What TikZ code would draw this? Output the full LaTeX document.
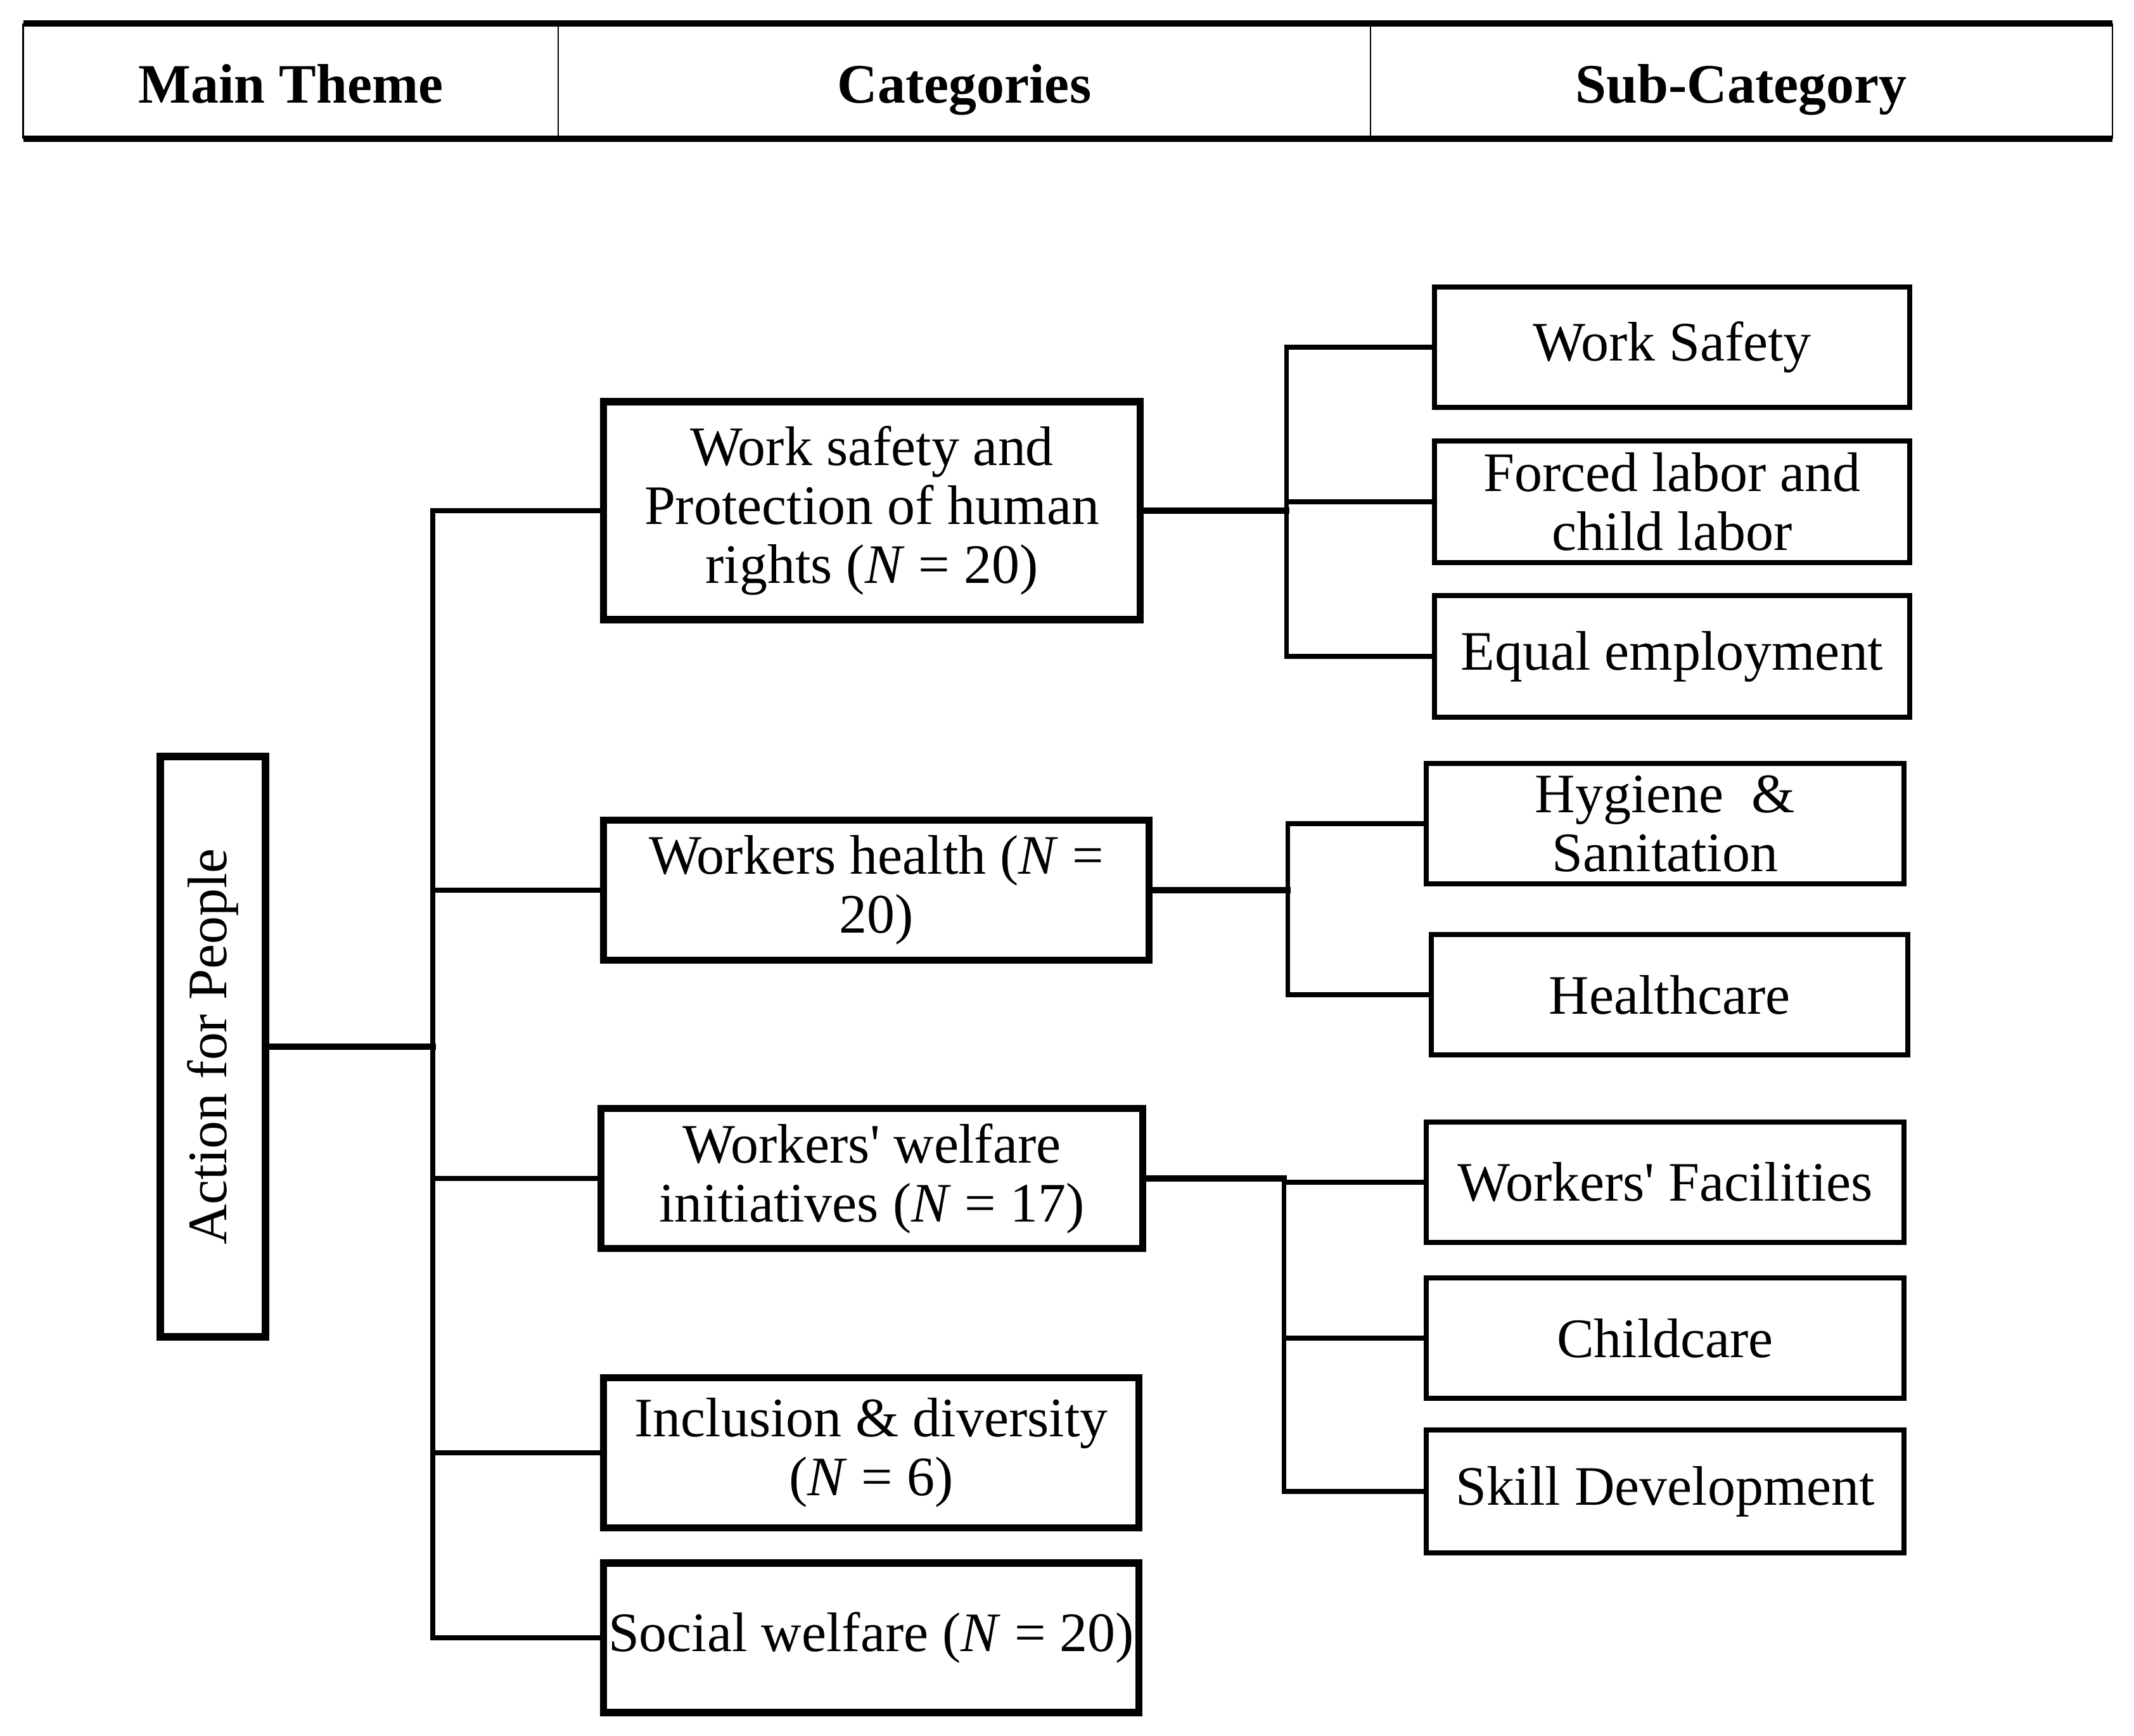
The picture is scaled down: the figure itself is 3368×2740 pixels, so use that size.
\documentclass[tikz,border=0pt]{standalone}
\usepackage{fontspec}
\setmainfont{Liberation Serif}
\newfontfamily\nomapfont{Liberation Serif}
\newcommand{\sq}{{\nomapfont\char"0027\relax}}
\begin{document}
\begin{tikzpicture}[x=0.01cm,y=-0.01cm,
  txt/.style={font=\fontsize{25pt}{26.5pt}\selectfont, align=center, inner sep=0pt},
  hdr/.style={font=\fontsize{25pt}{26.5pt}\selectfont\bfseries, inner sep=0pt, anchor=base},
  catbox/.style={txt, draw, line width=3.2pt},
  subbox/.style={txt, draw, line width=2.3pt},
  mainbox/.style={draw, line width=3.4pt, inner sep=0pt},
  conn/.style={line width=2pt, line cap=rect},
  thickconn/.style={line width=2.8pt, line cap=rect},
  hline/.style={line width=3pt},
  vline/.style={line width=0.8pt}
]
\useasboundingbox (0,0) rectangle (3368,2740);

% header table
\draw[hline] (36.5,37) -- (3334,37);
\draw[hline] (36.5,219) -- (3334,219);
\foreach \xx in {36.5,881,2163,3334} \draw[vline] (\xx,37) -- (\xx,219);
\node[hdr] (h1) at (459,163) {Main Theme};
\node[hdr] (h2) at (1522,163) {Categories};
\node[hdr] (h3) at (2748,163) {Sub-Category};

% main theme
\node[mainbox, minimum width=1.66cm, minimum height=9.16cm] (act) at (336,1652) {};
\node[txt, rotate=90] (actlbl) at (act.center) {Action for People};

% categories
\node[catbox, minimum width=8.46cm, minimum height=3.44cm] (c1) at (1376,806) {Work safety and\\Protection of human\\rights (\textit{N} = 20)};
\node[catbox, minimum width=8.61cm, minimum height=2.21cm] (c2) at (1383,1405) {Workers health (\textit{N} =\\20)};
\node[catbox, minimum width=8.55cm, minimum height=2.21cm] (c3) at (1376,1860) {Workers\sq{} welfare\\initiatives (\textit{N} = 17)};
\node[catbox, minimum width=8.44cm, minimum height=2.37cm] (c4) at (1375,2293) {Inclusion \& diversity\\(\textit{N} = 6)};
\node[catbox, minimum width=8.44cm, minimum height=2.36cm] (c5) at (1375,2585) {Social welfare (\textit{N} = 20)};

% sub-categories
\node[subbox, minimum width=7.50cm, minimum height=1.90cm] (s1) at (2639,548) {Work Safety};
\node[subbox, minimum width=7.50cm, minimum height=1.92cm] (s2) at (2639,792) {Forced labor and\\child labor};
\node[subbox, minimum width=7.50cm, minimum height=1.91cm] (s3) at (2639,1036) {Equal employment};
\node[subbox, minimum width=7.54cm, minimum height=1.89cm] (s4) at (2628,1300) {Hygiene~~\&\\Sanitation};
\node[subbox, minimum width=7.51cm, minimum height=1.90cm] (s5) at (2635,1570) {Healthcare};
\node[subbox, minimum width=7.54cm, minimum height=1.89cm] (s6) at (2628,1866) {Workers\sq{} Facilities};
\node[subbox, minimum width=7.54cm, minimum height=1.89cm] (s7) at (2628,2112) {Childcare};
\node[subbox, minimum width=7.54cm, minimum height=1.94cm] (s8) at (2628,2354) {Skill Development};

% trunk
\coordinate (tx) at (683,0);
\draw[thickconn] (act.east) -- (act.east -| tx);
\draw[conn] (c1.west -| tx) -- (c5.west -| tx);
\foreach \c in {c1,c2,c3,c4,c5} \draw[conn] (\c.west) -- (\c.west -| tx);

% group 1
\coordinate (g1) at (2030,0);
\draw[thickconn] (c1.east) -- (c1.east -| g1);
\draw[conn] (s1.west -| g1) -- (s3.west -| g1);
\foreach \s in {s1,s2,s3} \draw[conn] (\s.west) -- (\s.west -| g1);

% group 2
\coordinate (g2) at (2032,0);
\draw[thickconn] (c2.east) -- (c2.east -| g2);
\draw[conn] (s4.west -| g2) -- (s5.west -| g2);
\foreach \s in {s4,s5} \draw[conn] (\s.west) -- (\s.west -| g2);

% group 3
\coordinate (g3) at (2026,0);
\draw[thickconn] (c3.east) -- (c3.east -| g3);
\draw[conn] (c3.east -| g3) -- (s8.west -| g3);
\foreach \s in {s6,s7,s8} \draw[conn] (\s.west) -- (\s.west -| g3);
\end{tikzpicture}
\end{document}
